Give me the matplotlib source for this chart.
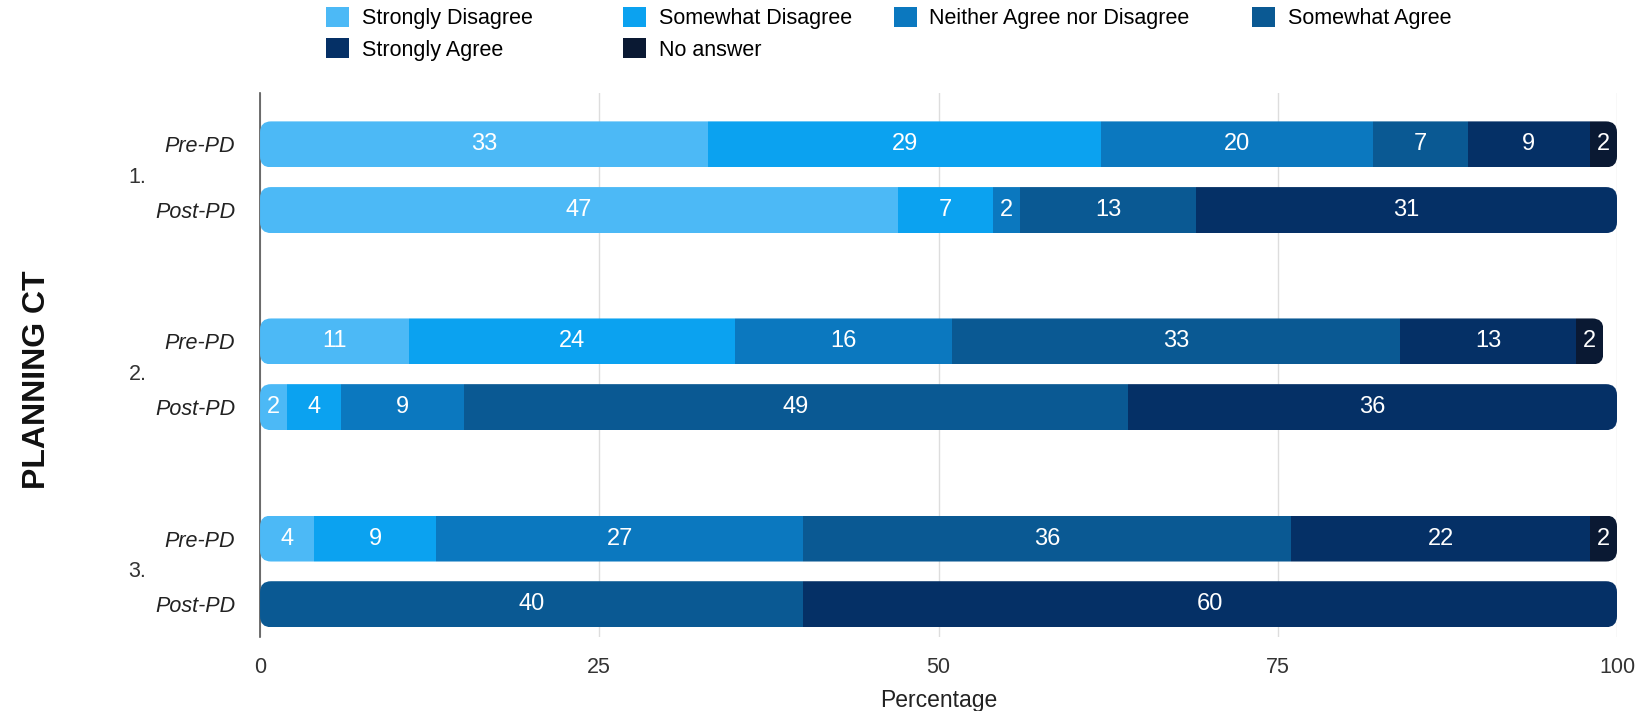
import matplotlib.pyplot as plt
import numpy as np
from matplotlib.patches import FancyBboxPatch

plt.rcParams['font.family'] = ['Liberation Sans', 'DejaVu Sans']

categories = ["Strongly Disagree", "Somewhat Disagree", "Neither Agree nor Disagree",
              "Somewhat Agree", "Strongly Agree", "No answer"]
colors = ["#4cb9f6", "#0ba2f0", "#0b78bf", "#0a5993", "#053066", "#0a1933"]

group_labels = ["1.", "2.", "3."]
row_labels = ["Pre-PD", "Post-PD"]

pre_1 = [33, 29, 20, 7, 9, 2]
post_1 = [47, 7, 2, 13, 31, 0]
pre_2 = [11, 24, 16, 33, 13, 2]
post_2 = [2, 4, 9, 49, 36, 0]
pre_3 = [4, 9, 27, 36, 22, 2]
post_3 = [0, 0, 0, 40, 60, 0]

rows = [pre_1, post_1, pre_2, post_2, pre_3, post_3]

GROUP_STEP = 3
BAR_H = 0.70

fig = plt.figure(figsize=(16.5, 7.11), dpi=100)
ax = fig.add_axes([0.1576, 0.104, 0.8224, 0.765])
ax.set_xlim(0, 100)
ax.set_ylim(7.5, -0.78)

ypos = []
for g in range(len(group_labels)):
    for r in range(len(row_labels)):
        ypos.append(g * GROUP_STEP + r)
ypos = np.array(ypos, dtype=float)

data = np.array(rows, dtype=float)

# pixel scale, used for the rounded bar ends
p0 = ax.transData.transform((0, 0))
p1 = ax.transData.transform((1, 1))
px_x = abs(p1[0] - p0[0])
px_y = abs(p1[1] - p0[1])
radius_px = 11
rsize = radius_px / px_x
aspect = px_x / px_y

left = np.zeros(len(rows))
containers = []
for j, cat in enumerate(categories):
    bars = ax.barh(ypos, data[:, j], left=left, height=BAR_H, color=colors[j],
                   label=cat, linewidth=0, zorder=3)
    containers.append(bars)
    for i, v in enumerate(data[:, j]):
        if v > 0:
            ax.text(left[i] + v / 2, ypos[i], f"{int(v)}", ha="center", va="center",
                    color="white", fontsize=17, zorder=5)
    left = left + data[:, j]

# clip each stacked row to a rounded box
for i, y in enumerate(ypos):
    clip = FancyBboxPatch((0, y - BAR_H / 2), left[i], BAR_H,
                          boxstyle=f"round,pad=0,rounding_size={rsize}",
                          mutation_aspect=aspect,
                          transform=ax.transData, facecolor="none", edgecolor="none")
    ax.add_patch(clip)
    for bars in containers:
        bars.patches[i].set_clip_path(clip)

ax.set_yticks(ypos)
ax.set_yticklabels(row_labels * len(group_labels), fontstyle="italic", fontsize=15.5,
                   color="#222222")
ax.tick_params(axis="y", length=0, pad=18)
ax.set_xticks([0, 25, 50, 75, 100])
ax.tick_params(axis="x", length=0, pad=14, labelsize=15.5, labelcolor="#333333")
ax.grid(axis="x", color="#dddddd", linewidth=1, zorder=0)
ax.set_axisbelow(True)
for s in ["top", "right", "bottom"]:
    ax.spines[s].set_visible(False)
ax.spines["left"].set_color("#555555")
ax.spines["left"].set_linewidth(1.2)

ax.set_xlabel("Percentage", fontsize=16.5, labelpad=8, color="#222222")

for g, lab in enumerate(group_labels):
    ax.text(-0.097, g * GROUP_STEP + 0.5, lab, transform=ax.get_yaxis_transform(),
            ha="left", va="center", fontsize=15.5, color="#333333")

fig.text(0.0224, 0.466, "PLANNING CT", rotation=90, ha="center", va="center",
         fontsize=23, fontweight="bold", color="#111111")

# legend: 2 rows, filled row by row, columns placed like the original
legend_cols = [[0, 4], [1, 5], [2], [3]]
legend_x = [0.1976, 0.3776, 0.5418, 0.7588]
for idx, lx in zip(legend_cols, legend_x):
    fig.legend([containers[k] for k in idx], [categories[k] for k in idx],
               loc="upper left", bbox_to_anchor=(lx, 0.99), ncol=1, frameon=False,
               fontsize=15.5, handlelength=1.05, handleheight=1.05, handletextpad=0.6,
               labelspacing=0.42, borderpad=0, borderaxespad=0)

fig.savefig("out.png", dpi=100, facecolor="white")
